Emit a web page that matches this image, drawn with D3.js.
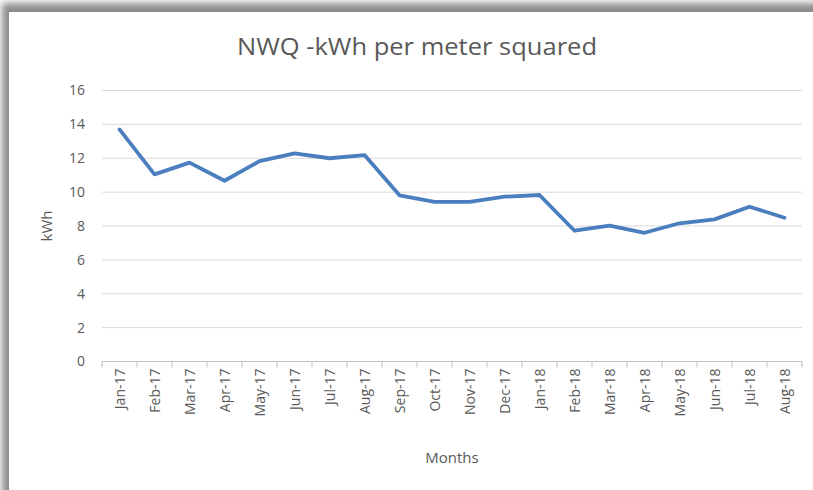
<!DOCTYPE html>
<html>
<head>
<meta charset="utf-8">
<script src="https://cdn.jsdelivr.net/npm/d3@7"></script>
<style>
  html, body { margin: 0; background: #fff; overflow: hidden; }
  svg { display: block; }
  text { font-family: "Open Sans", "Noto Sans", sans-serif; fill: #595959; }
</style>
</head>
<body>
<svg width="813" height="490"></svg>
<script>
// data
const months = ['Jan-17', 'Feb-17', 'Mar-17', 'Apr-17', 'May-17', 'Jun-17', 'Jul-17', 'Aug-17',
    'Sep-17', 'Oct-17', 'Nov-17', 'Dec-17', 'Jan-18', 'Feb-18', 'Mar-18', 'Apr-18',
    'May-18', 'Jun-18', 'Jul-18', 'Aug-18'];
const kwh = [13.7, 11.05, 11.74, 10.67, 11.83, 12.29, 12.0, 12.19,
    9.81, 9.43, 9.43, 9.73, 9.83, 7.72, 8.02, 7.6,
    8.16, 8.39, 9.14, 8.49];
const yTicks = [0, 2, 4, 6, 8, 10, 12, 14, 16];

const svg = d3.select("svg");
const margin = { left: 102, right: 11, top: 90.5, bottom: 128.5 };
const width = +svg.attr("width");
const height = +svg.attr("height");

// panel shadow
const defs = svg.append("defs");
defs.append("filter").attr("id", "shadow")
    .attr("filterUnits", "userSpaceOnUse")
    .attr("x", -50).attr("y", -50).attr("width", 1100).attr("height", 800)
    .append("feGaussianBlur").attr("stdDeviation", 3.5);

svg.append("rect")
    .attr("x", 2).attr("y", 3)
    .attr("width", 1000).attr("height", 700)
    .attr("fill", "#8c8c8c")
    .attr("filter", "url(#shadow)");
svg.append("rect")
    .attr("x", 9).attr("y", 12)
    .attr("width", 1000).attr("height", 700)
    .attr("fill", "#fff");

const x = d3.scaleBand()
    .domain(months)
    .range([margin.left, width - margin.right]);

const y = d3.scaleLinear()
    .domain([0, 16])
    .range([height - margin.bottom, margin.top]);

// gridlines
svg.append("g")
    .selectAll("line")
    .data(yTicks.filter(d => d > 0))
    .join("line")
    .attr("x1", margin.left)
    .attr("x2", width - margin.right)
    .attr("y1", d => y(d))
    .attr("y2", d => y(d))
    .attr("stroke", "#d9d9d9")
    .attr("stroke-width", 1);

// y axis labels
const yAxis = svg.append("g")
    .attr("transform", `translate(${margin.left},0)`)
    .call(d3.axisLeft(y).tickValues(yTicks).tickSize(0).tickPadding(17));
yAxis.select(".domain").remove();
yAxis.selectAll("text")
    .style("font-size", "14px")
    .attr("fill", "#595959");

// x axis with ticks at category boundaries
const xAxisG = svg.append("g")
    .attr("transform", `translate(0,${y(0)})`);
xAxisG.append("line")
    .attr("x1", margin.left).attr("x2", width - margin.right)
    .attr("stroke", "#bfbfbf");
xAxisG.selectAll(".bound")
    .data(months.concat(["end"]))
    .join("line")
    .attr("class", "bound")
    .attr("x1", (d, i) => i < months.length ? x(d) : x(months[months.length - 1]) + x.bandwidth())
    .attr("x2", (d, i) => i < months.length ? x(d) : x(months[months.length - 1]) + x.bandwidth())
    .attr("y1", 0).attr("y2", 6)
    .attr("stroke", "#bfbfbf");

xAxisG.selectAll(".lbl")
    .data(months)
    .join("text")
    .attr("class", "lbl")
    .attr("transform", d => `translate(${x(d) + x.bandwidth() / 2 + 5},7) rotate(-90)`)
    .attr("text-anchor", "end")
    .style("font-size", "14px")
    .text(d => d);

// line
const line = d3.line()
    .x((d, i) => x(months[i]) + x.bandwidth() / 2)
    .y(d => y(d));

svg.append("path")
    .datum(kwh)
    .attr("d", line)
    .attr("fill", "none")
    .attr("stroke", "#4a7ebf")
    .attr("stroke-width", 3.8)
    .attr("stroke-linejoin", "round")
    .attr("stroke-linecap", "round");

// titles
svg.append("text")
    .attr("x", 417).attr("y", 55)
    .attr("text-anchor", "middle")
    .style("font-size", "24px")
    .attr("textLength", 360)
    .attr("lengthAdjust", "spacingAndGlyphs")
    .text("NWQ -kWh per meter squared");

svg.append("text")
    .attr("x", 452).attr("y", 463)
    .attr("text-anchor", "middle")
    .style("font-size", "15px")
    .text("Months");

svg.append("text")
    .attr("transform", "translate(52,226) rotate(-90)")
    .attr("text-anchor", "middle")
    .style("font-size", "15px")
    .text("kWh");
</script>
</body>
</html>
